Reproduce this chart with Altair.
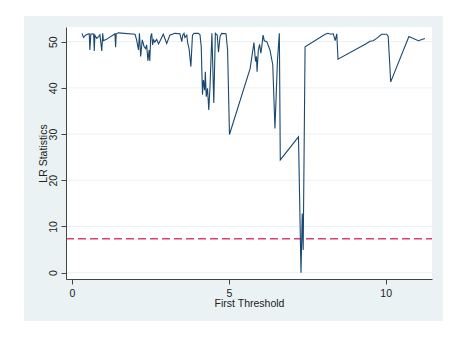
import altair as alt
import pandas as pd

# First threshold values (x) and LR statistics (y)
threshold = [
    0.32, 0.35, 0.37, 0.43, 0.49, 0.55, 0.57, 0.60, 0.64, 0.69, 0.71, 0.73, 0.79, 0.85, 0.89,
    0.95, 0.98, 1.00, 1.10, 1.37, 1.39, 1.41, 1.48, 2.01, 2.06, 2.12, 2.15, 2.19, 2.24, 2.30,
    2.35, 2.38, 2.42, 2.46, 2.48, 2.51, 2.54, 2.57, 2.60, 2.64, 2.70, 2.76, 2.91, 3.02, 3.12,
    3.28, 3.44, 3.50, 3.53, 3.57, 3.60, 3.66, 3.69, 3.73, 3.79, 3.84, 3.89, 4.03, 4.08, 4.12,
    4.16, 4.19, 4.23, 4.25, 4.28, 4.32, 4.36, 4.40, 4.46, 4.52, 4.57, 4.63, 4.67, 4.72, 4.77,
    4.91, 4.96, 5.02, 5.68, 5.80, 5.85, 5.88, 5.90, 5.94, 5.98, 6.02, 6.05, 6.09, 6.13, 6.21,
    6.31, 6.40, 6.47, 6.55, 6.61, 6.64, 7.22, 7.30, 7.34, 7.37, 7.43, 8.07, 8.16, 8.25, 8.33,
    8.39, 8.44, 8.48, 9.39, 9.50, 9.60, 9.71, 9.87, 10.03, 10.08, 10.16, 10.74, 11.04, 11.25,
]
lr_stat = [
    51.8, 51.2, 50.9, 51.4, 51.6, 51.7, 48.2, 51.6, 51.7, 51.6, 48.0, 51.4, 50.7, 51.1, 51.5,
    48.0, 51.8, 50.2, 50.5, 51.7, 48.8, 51.7, 51.9, 51.6, 50.4, 48.2, 51.8, 46.8, 50.4, 48.9,
    48.5, 49.3, 45.9, 48.2, 45.8, 51.1, 51.8, 49.3, 50.4, 49.9, 50.5, 49.5, 51.6, 49.6, 51.4,
    51.8, 51.7, 50.0, 51.4, 51.8, 50.9, 51.4, 49.6, 48.6, 44.6, 51.4, 51.8, 51.8, 51.5, 48.9,
    38.5, 41.7, 39.5, 43.5, 38.1, 39.9, 35.2, 40.3, 51.8, 36.7, 51.8, 51.4, 47.7, 51.1, 51.8,
    51.7, 48.2, 29.9, 44.2, 49.8, 45.7, 46.8, 43.5, 48.2, 49.4, 47.5, 48.9, 51.4, 50.2, 50.0,
    48.2, 45.0, 31.2, 46.0, 51.8, 24.4, 29.4, 0.0, 12.8, 4.9, 48.9, 51.6, 51.8, 51.6, 51.7,
    50.2, 51.7, 46.2, 49.6, 50.1, 50.2, 50.7, 51.6, 51.6, 51.2, 41.3, 51.1, 50.2, 50.7,
]
grid_levels = [0, 10, 20, 30, 40, 50]
critical_value = [7.35]
x_ticks = [0, 5, 10]
y_ticks = [0, 10, 20, 30, 40, 50]

W, H = 366, 252
FONT = "Liberation Sans"
NAVY = "#1a476f"
BG = "#eaf2f3"

xscale = alt.Scale(domain=[-0.191, 11.476], nice=False, zero=False)
yscale = alt.Scale(domain=[-1.37, 53.17], nice=False, zero=False)

y_axis = alt.Axis(
    values=y_ticks, format="d", title="LR Statistics", grid=False,
    tickSize=5, tickColor="#444", domainColor="#444", labelColor="#222",
    labelFont=FONT, labelFontSize=10.5, labelAngle=270, labelAlign="center",
    labelBaseline="alphabetic", labelPadding=4.7, labelFlush=False,
    titleFont=FONT, titleFontSize=10.5, titleFontWeight="normal", titleColor="#222",
    titleAngle=270, titleAlign="center", titleBaseline="alphabetic",
    titleX=-19.5, titleY=H / 2, zindex=1,
)
x_axis = alt.Axis(
    values=x_ticks, format="d", title="First Threshold", grid=False,
    tickSize=5, tickColor="#444", domainColor="#444", labelColor="#222",
    labelFont=FONT, labelFontSize=10.5, labelPadding=12, labelBaseline="alphabetic",
    labelFlush=False, titleFont=FONT, titleFontSize=10.5, titleFontWeight="normal",
    titleColor="#222", titleBaseline="alphabetic", titleY=27.7, zindex=1,
)

one = pd.DataFrame({"a": [0]})

outer = alt.Chart(one).mark_rect(color=BG).encode(
    x=alt.value(-42), x2=alt.value(377), y=alt.value(-11), y2=alt.value(294)
)
inner = alt.Chart(one).mark_rect(color="white").encode(
    x=alt.value(0), x2=alt.value(W), y=alt.value(0), y2=alt.value(H)
)
grid = alt.Chart(pd.DataFrame({"g": grid_levels})).mark_rule(color=BG, strokeWidth=1).encode(
    y=alt.Y("g:Q", scale=yscale, axis=y_axis, title="LR Statistics"),
    x=alt.value(0), x2=alt.value(W),
)
hline = alt.Chart(pd.DataFrame({"c": critical_value})).mark_rule(
    color="#e0416a", strokeWidth=1.5, strokeDash=[8, 4]
).encode(
    y=alt.Y("c:Q", scale=yscale, axis=y_axis, title="LR Statistics"),
    x=alt.value(0), x2=alt.value(W),
)
df = pd.DataFrame({"t": threshold, "lr": lr_stat})
line = alt.Chart(df).mark_line(color=NAVY, strokeWidth=1.1).encode(
    x=alt.X("t:Q", scale=xscale, axis=x_axis, title="First Threshold"),
    y=alt.Y("lr:Q", scale=yscale, axis=y_axis, title="LR Statistics"),
    order=alt.Order("t:Q"),
)

chart = alt.layer(outer, inner, grid, hline, line).properties(
    width=W, height=H,
    autosize=alt.AutoSizeParams(type="none"),
    padding={"left": 58, "top": 19, "right": 13, "bottom": 44},
    background="white",
).configure_view(stroke=None, fill="white")

chart.save("out.html", embed_options={"renderer": "svg", "actions": False})
